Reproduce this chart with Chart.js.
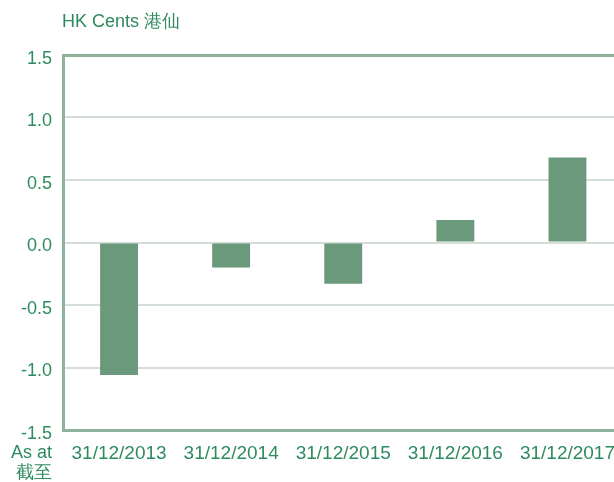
<!DOCTYPE html>
<html>
<head>
<meta charset="utf-8">
<script src="https://cdn.jsdelivr.net/npm/chart.js@4"></script>
<style>
  html, body { margin: 0; padding: 0; background: #fff; overflow: hidden; }
  #wrap { width: 614px; height: 482px; overflow: hidden; }
</style>
</head>
<body>
<div id="wrap"><canvas id="dps" width="627" height="482" style="width:627px;height:482px"></canvas></div>
<script>
  const dates = ['31/12/2013', '31/12/2014', '31/12/2015', '31/12/2016', '31/12/2017'];
  const cents = [-1.06, -0.20, -0.33, 0.18, 0.68];
  const yTicks = [-1.5, -1.0, -0.5, 0.0, 0.5, 1.0, 1.5];

  const green = '#2f8a60';
  const barColor = '#6a997b';
  const frameColor = '#8fb39a';
  const gridColor = '#d5ddd8';
  const family = 'Liberation Sans, Arial, sans-serif';

  // extra texts: unit title and "As at / 截至"
  const extraText = {
    id: 'extraText',
    afterDraw(chart) {
      const ctx = chart.ctx;
      ctx.save();
      ctx.fillStyle = green;
      ctx.font = '18px ' + family;
      ctx.textBaseline = 'middle';
      ctx.textAlign = 'left';
      ctx.fillText('HK Cents 港仙', 62, 22);
      ctx.textAlign = 'right';
      ctx.fillText('As at', 52, 453);
      ctx.fillText('截至', 52, 473);
      ctx.restore();
    }
  };

  const dpsChart = new Chart(document.querySelector('#dps'), {
    type: 'bar',
    data: {
      labels: dates,
      datasets: [{
        label: 'HK Cents',
        data: cents,
        backgroundColor: barColor,
        borderWidth: 0,
        barPercentage: 0.338,
        categoryPercentage: 1
      }]
    },
    options: {
      responsive: false,
      animation: false,
      layout: { padding: { top: 55, right: 0, bottom: 0, left: 0 } },
      plugins: { legend: { display: false }, tooltip: { enabled: false } },
      scales: {
        x: {
          grid: { display: false, drawTicks: false },
          border: { display: true, color: frameColor, width: 3 },
          ticks: { color: green, font: { family: family, size: 19 }, padding: 12, maxRotation: 0 },
          afterFit(scale) { scale.height = 52; }
        },
        y: {
          min: -1.5,
          max: 1.5,
          afterBuildTicks(scale) { scale.ticks = yTicks.map(v => ({ value: v })); },
          grid: {
            drawTicks: false,
            color: ctx => (ctx.tick && Math.abs(ctx.tick.value) === 1.5) ? frameColor : gridColor,
            lineWidth: ctx => (ctx.tick && Math.abs(ctx.tick.value) === 1.5) ? 3 : 2
          },
          border: { display: true, color: frameColor, width: 3 },
          ticks: {
            color: green,
            font: { family: family, size: 18 },
            padding: 11,
            labelOffset: 4,
            callback: v => v.toFixed(1)
          },
          afterFit(scale) { scale.width = 63; }
        }
      }
    },
    plugins: [extraText]
  });
</script>
</body>
</html>
